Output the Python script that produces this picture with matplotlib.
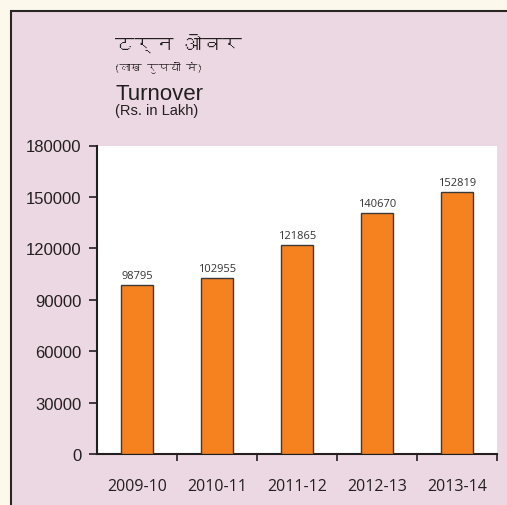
import matplotlib
matplotlib.use("Agg")
import matplotlib.pyplot as plt
from matplotlib.patches import Rectangle
from matplotlib import font_manager

years = ["2009-10", "2010-11", "2011-12", "2012-13", "2013-14"]
turnover = [98795, 102955, 121865, 140670, 152819]
yticks = [0, 30000, 60000, 90000, 120000, 150000, 180000]
title_hi = "टर्न ओवर"
sub_hi = "(लाख रुपयों में)"
title_en = "Turnover"
sub_en = "(Rs. in Lakh)"


def find_font(ch):
    try:
        from fontTools.ttLib import TTFont
    except Exception:
        return None
    for f in font_manager.fontManager.ttflist:
        try:
            tt = TTFont(f.fname, fontNumber=0, lazy=True)
            cmap = tt.getBestCmap()
            if cmap and ord(ch) in cmap:
                return f.name
        except Exception:
            pass
    return None


deva = find_font("ट")
hi_family = [deva, "DejaVu Sans"] if deva else ["DejaVu Sans"]

W, H = 507, 506
fig = plt.figure(figsize=(W / 100, H / 100), dpi=100)
fig.patch.set_facecolor("#fdf8ec")

# inner panel with border on left/top
panel = Rectangle((11 / W, -0.05), 1.2, (H - 12) / H + 0.05,
                  transform=fig.transFigure, facecolor="#ecd8e2",
                  edgecolor="#2b2626", lw=1.5, zorder=-5)
fig.add_artist(panel)

ax = fig.add_axes([97 / W, 51 / H, 400 / W, 308.5 / H])
ax.set_zorder(2)
ax.set_facecolor("white")
x = list(range(len(years)))
bars = ax.bar(x, turnover, width=0.4, color="#f5821f", edgecolor="#3a3a3a",
              linewidth=1.0, zorder=3)
for xi, v in zip(x, turnover):
    ax.text(xi, v + 2200, str(v), ha="center", va="bottom",
            fontsize=8, family="Open Sans", color="#333333")

ax.set_xlim(-0.5, len(years) - 0.5)
ax.set_ylim(0, 180000)
ax.set_yticks(yticks)
ax.set_yticklabels([str(t) for t in yticks], family="Liberation Sans",
                   fontsize=12, color="#231f20")
ax.set_xticks(x)
ax.set_xticklabels(years, family="Open Sans", fontsize=11.5, color="#231f20")
ax.tick_params(axis="x", length=0, pad=17)
ax.set_xticks([i + 0.5 for i in x], minor=True)
ax.tick_params(axis="x", which="minor", length=5, width=1.2, color="#231f20",
               direction="out")
ax.tick_params(axis="y", length=6, width=1.2, color="#231f20", pad=5)
for s in ["top", "right"]:
    ax.spines[s].set_visible(False)
for s in ["left", "bottom"]:
    ax.spines[s].set_color("#231f20")
    ax.spines[s].set_linewidth(1.5)

# titles
fig.text(115 / W, 1 - 43 / H, title_hi, family=hi_family, fontsize=14,
         va="center", ha="left", color="#231f20")
fig.text(114 / W, 1 - 67 / H, sub_hi, family=hi_family, fontsize=8,
         va="center", ha="left", color="#231f20")
fig.text(115 / W, 1 - 100 / H, title_en, family="Liberation Sans", fontsize=16,
         va="baseline", ha="left", color="#231f20")
fig.text(115 / W, 1 - 111 / H, sub_en, family="Liberation Sans", fontsize=10.5,
         va="center", ha="left", color="#231f20")

fig.savefig("out.png", dpi=100, facecolor=fig.get_facecolor())
